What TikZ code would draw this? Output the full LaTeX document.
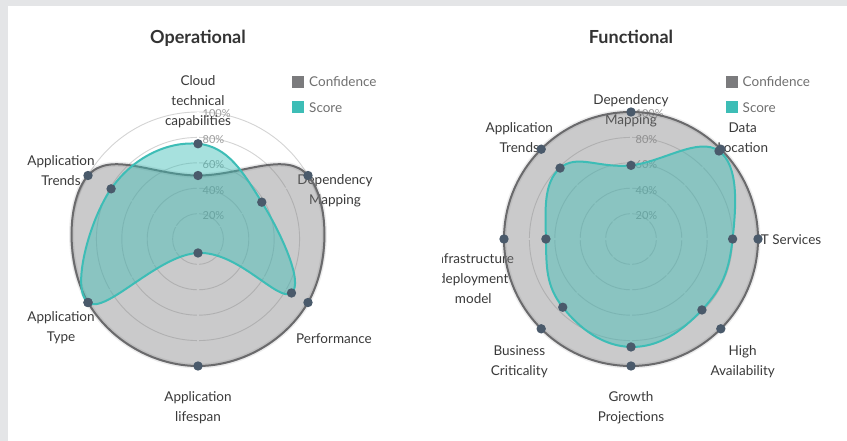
\documentclass[tikz,border=0pt]{standalone}
\usepackage{fontspec}
\setmainfont{Lato}
\definecolor{bgray}{HTML}{E4E5E7}
\definecolor{gridc}{HTML}{D4D4D4}
\definecolor{confc}{HTML}{7B7B7D}
\definecolor{confline}{HTML}{6A6A6C}
\definecolor{scorec}{HTML}{3DBDB6}
\definecolor{ptc}{HTML}{4A5A6B}
\definecolor{labc}{HTML}{3A3A3A}
\definecolor{tickc}{HTML}{9C9C9C}
\definecolor{legc}{HTML}{707070}
\definecolor{titlec}{HTML}{333333}
\tikzset{
  lbl/.style={font=\fontsize{13.5}{20}\selectfont, text=labc, align=center, inner sep=0pt},
  ticklbl/.style={font=\fontsize{11}{13}\selectfont, text=tickc, anchor=west, inner sep=0pt},
  legtxt/.style={font=\fontsize{13.5}{16}\selectfont, text=legc, anchor=base west, inner sep=0pt},
  ttl/.style={font=\fontsize{18}{22}\selectfont\bfseries, text=titlec, anchor=base, inner sep=0pt},
  gridline/.style={draw=gridc, line width=0.9pt},
  angline/.style={draw=white, line width=1.3pt},
  conffill/.style={fill=confc, fill opacity=0.4},
  confglow/.style={draw=confline, line width=5pt, opacity=0.12},
  confedge/.style={draw=confline, line width=2pt},
  scorefill/.style={fill=scorec, fill opacity=0.45},
  scoreedge/.style={draw=scorec, line width=2pt},
  dot/.style={fill=ptc},
  curv/.style={smooth cycle, tension=0.72},
}
\def\R{127}
\begin{document}
\begin{tikzpicture}[x=1pt,y=1pt]
\fill[bgray] (0,0) rectangle (847,-441);
\fill[white] (8,-6) rectangle (847,-441);
\useasboundingbox (0,0) rectangle (847,-441);

% ================= Operational =================
\node[ttl] (t1) at (198,-44) {Operational};
\fill[confc] (292,-76) rectangle (304,-88);
\node[legtxt] (l1a) at (309,-86.8) {Confidence};
\fill[scorec] (292,-101.5) rectangle (304,-113.5);
\node[legtxt] (l1b) at (309,-112.3) {Score};

\begin{scope}[shift={(198,-239)}]
  \foreach \p in {0.2,0.4,0.6,0.8,1.0} \draw[gridline] (0,0) circle[radius=\p*\R];
  \foreach \a in {90,30,-30,-90,-150,150} \draw[angline] (0,0) -- (\a:\R);
  \foreach \p/\t in {0.2/20,0.4/40,0.6/60,0.8/80,1.0/100} \node[ticklbl] at (4.5,\p*\R-2) {\t\%};
  \node[lbl] (oa1) at (0,137.5) {Cloud\\technical\\capabilities};
  \node[lbl] (oa2) at (137,48.5) {Dependency\\Mapping};
  \node[lbl] (oa3) at (136,-100) {Performance};
  \node[lbl] (oa4) at (0,-168.5) {Application\\lifespan};
  \node[lbl] (oa5) at (-137,-89) {Application\\Type};
  \node[lbl] (oa6) at (-137,68) {Application\\Trends};
  \foreach \a/\v [count=\i] in {90/0.5,30/1,-30/1,-90/1,-150/1,150/1}
    \coordinate (oc\i) at (\a:\v*\R);
  \foreach \a/\v [count=\i] in {90/0.75,30/0.58,-30/0.85,-90/0.11,-150/1,150/0.79}
    \coordinate (os\i) at (\a:\v*\R);
  \fill[conffill] plot[curv] coordinates {(oc1)(oc2)(oc3)(oc4)(oc5)(oc6)};
  \draw[confglow] plot[curv] coordinates {(oc1)(oc2)(oc3)(oc4)(oc5)(oc6)};
  \draw[confedge] plot[curv] coordinates {(oc1)(oc2)(oc3)(oc4)(oc5)(oc6)};
  \fill[scorefill] plot[curv] coordinates {(os1)(os2)(os3)(os4)(os5)(os6)};
  \draw[scoreedge] plot[curv] coordinates {(os1)(os2)(os3)(os4)(os5)(os6)};
  \foreach \i in {1,...,6} {\fill[dot] (oc\i) circle[radius=4.7]; \fill[dot] (os\i) circle[radius=4.7];}
\end{scope}

% ================= Functional =================
\node[ttl] (t2) at (631,-44) {Functional};
\fill[confc] (726,-76) rectangle (738,-88);
\node[legtxt] (l2a) at (742.5,-86.8) {Confidence};
\fill[scorec] (726,-101.5) rectangle (738,-113.5);
\node[legtxt] (l2b) at (742.5,-112.3) {Score};

\begin{scope}[shift={(631,-239)}]
  \foreach \p in {0.2,0.4,0.6,0.8,1.0} \draw[gridline] (0,0) circle[radius=\p*\R];
  \foreach \a in {90,45,0,-45,-90,-135,180,135} \draw[angline] (0,0) -- (\a:\R);
  \foreach \p/\t in {0.2/20,0.4/40,0.6/60,0.8/80,1.0/100} \node[ticklbl] at (4.5,\p*\R-2) {\t\%};
  \node[lbl] (fa1) at (0,128.5) {Dependency\\Mapping};
  \node[lbl] (fa2) at (111.7,101.3) {Data\\Location};
  \node[lbl, anchor=west] (fa3) at (126,-1) {IT Services};
  \node[lbl] (fa4) at (111.7,-122.7) {High\\Availability};
  \node[lbl] (fa5) at (0,-169) {Growth\\Projections};
  \node[lbl] (fa6) at (-111.7,-122.7) {Business\\Criticality};
  \begin{scope}
    \clip (-188.5,-100) rectangle (0,20);
    \node[lbl] (fa7) at (-157.7,-39.8) {Infrastructure\\deployment\\model};
  \end{scope}
  \node[lbl] (fa8) at (-111.7,101.3) {Application\\Trends};
  \foreach \a [count=\i] in {90,45,0,-45,-90,-135,180,135}
    \coordinate (fc\i) at (\a:\R);
  \foreach \a/\v [count=\i] in {90/0.58,45/0.98,0/0.80,-45/0.79,-90/0.85,-135/0.76,180/0.67,135/0.79}
    \coordinate (fs\i) at (\a:\v*\R);
  \fill[conffill] (0,0) circle[radius=\R];
  \draw[confglow] (0,0) circle[radius=\R];
  \draw[confedge] (0,0) circle[radius=\R];
  \fill[scorefill] plot[curv] coordinates {(fs1)(fs2)(fs3)(fs4)(fs5)(fs6)(fs7)(fs8)};
  \draw[scoreedge] plot[curv] coordinates {(fs1)(fs2)(fs3)(fs4)(fs5)(fs6)(fs7)(fs8)};
  \foreach \i in {1,...,8} {\fill[dot] (fc\i) circle[radius=4.7]; \fill[dot] (fs\i) circle[radius=4.7];}
\end{scope}
\end{tikzpicture}
\end{document}
